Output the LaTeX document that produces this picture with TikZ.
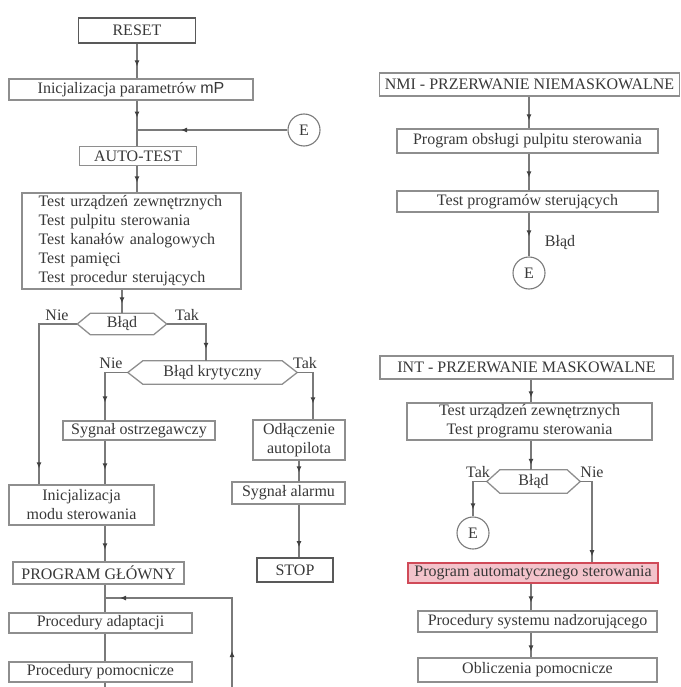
\documentclass[tikz,border=0pt]{standalone}
\usepackage{fontspec}
\setmainfont{Liberation Serif}
\newfontfamily\mysans{Liberation Sans}
\usetikzlibrary{arrows.meta,decorations.markings}
\definecolor{ln}{HTML}{7A7A7A}
\definecolor{bx}{HTML}{8E8E8E}
\definecolor{tx}{HTML}{383838}
\definecolor{pinkf}{HTML}{F3C3CB}
\definecolor{redb}{HTML}{D04A58}
\newcommand\hexdraw[2]{\draw[hexl] (#1.west) -- ([xshift=#2]#1.north west) -- ([xshift=-#2]#1.north east) -- (#1.east) -- ([xshift=-#2]#1.south east) -- ([xshift=#2]#1.south west) -- cycle;}
\begin{document}
\begin{tikzpicture}[x=1pt,y=-1pt,
  every node/.style={font=\fontsize{16}{19}\selectfont, text=tx},
  box/.style={draw=bx, line width=1.1pt, inner sep=0pt, align=center},
  thickbox/.style={draw=black!65, line width=1.8pt, inner sep=0pt, align=center},
  redbox/.style={draw=redb, fill=pinkf, line width=1.6pt, inner sep=0pt, align=center},
  circ/.style={circle, draw=ln, line width=1.1pt, minimum size=32pt, inner sep=0pt},
  hexn/.style={inner sep=0pt},
  hexl/.style={draw=bx, line width=1.3pt},
  ln1/.style={draw=ln, line width=1.1pt},
  arrowat/.style={postaction={decorate,decoration={markings,mark=at position #1 with {\arrow[black!75]{Latex[length=6pt,width=5pt]}}}}},
  lbl/.style={inner sep=0pt}
]
\useasboundingbox (0,0) rectangle (680,687);
% column coordinates
\coordinate (colA) at (137,0);
\coordinate (colL) at (39,0);
\coordinate (colM) at (105,0);
\coordinate (colR) at (206,0);
\coordinate (colS) at (313,0);
\coordinate (colT) at (299,0);
\coordinate (colN) at (529,0);
\coordinate (colI) at (531,0);
\coordinate (colP) at (592,0);

% left column
\node[thickbox, minimum width=117pt, minimum height=25pt] (reset) at (137,30.5) {RESET};
\node[box, minimum width=244pt, minimum height=21pt] (init) at (131,89.5) {Inicjalizacja parametrów {\mysans mP}};
\node[circ] (e1) at (304,130) {E};
\node[box, minimum width=117pt, minimum height=19pt] (auto) at (138,156) {AUTO-TEST};
\node[box, minimum width=219pt, minimum height=96pt, text width=186pt, align=left] (tests) at (131.5,241)
 {Test urządzeń zewnętrznych\\Test pulpitu sterowania\\Test kanałów analogowych\\Test pamięci\\Test procedur sterujących};
\node[hexn, minimum width=89pt, minimum height=21pt] (b1) at (122,324) {Błąd};
\hexdraw{b1}{13pt}
\node[lbl] (n1) at (57,315) {Nie};
\node[lbl] (t1) at (187,315) {Tak};
\node[hexn, minimum width=169pt, minimum height=23pt] (b2) at (212.5,372.5) {Błąd krytyczny};
\hexdraw{b2}{15pt}
\node[lbl] (n2) at (111,363) {Nie};
\node[lbl] (t2) at (305,363) {Tak};
\node[box, minimum width=152pt, minimum height=19pt] (sygo) at (139,430.5) {Sygnał ostrzegawczy};
\node[box, minimum width=92pt, minimum height=40pt] (odl) at (299,440) {Odłączenie\\autopilota};
\node[box, minimum width=113pt, minimum height=22pt] (alarm) at (288.5,493) {Sygnał alarmu};
\node[thickbox, minimum width=76pt, minimum height=24pt] (stop) at (295,570) {STOP};
\node[box, minimum width=145pt, minimum height=40pt] (initmod) at (81.5,505) {Inicjalizacja\\modu sterowania};
\node[box, minimum width=171pt, minimum height=22pt] (pg) at (98.5,573) {PROGRAM GŁÓWNY};
\node[box, minimum width=183pt, minimum height=20pt] (adapt) at (100.5,623) {Procedury adaptacji};
\node[box, minimum width=183pt, minimum height=20pt] (pomoc) at (100.5,672) {Procedury pomocnicze};

% right column
\node[box, minimum width=300pt, minimum height=23pt] (nmi) at (529.5,84.5) {NMI - PRZERWANIE NIEMASKOWALNE};
\node[box, minimum width=261pt, minimum height=24pt] (pobs) at (527.5,141) {Program obsługi pulpitu sterowania};
\node[box, minimum width=261pt, minimum height=21pt] (tprog) at (527.5,201.5) {Test programów sterujących};
\node[lbl] (bl2) at (560,243) {Błąd};
\node[circ] (e2) at (529,273) {E};

\node[box, minimum width=293pt, minimum height=23pt] (int) at (526.5,367.5) {INT - PRZERWANIE MASKOWALNE};
\node[box, minimum width=245pt, minimum height=37pt] (turz) at (529.5,421.5) {Test urządzeń zewnętrznych\\Test programu sterowania};
\node[hexn, minimum width=93pt, minimum height=23pt] (b3) at (533.5,481.5) {Błąd};
\hexdraw{b3}{13pt}
\node[lbl] (t3) at (478,472) {Tak};
\node[lbl] (n3) at (592,472) {Nie};
\node[circ] (e3) at (473,533) {E};
\node[redbox, minimum width=250pt, minimum height=20pt] (red) at (533,573) {Program automatycznego sterowania};
\node[box, minimum width=239pt, minimum height=21pt] (psys) at (537.5,621.5) {Procedury systemu nadzorującego};
\node[box, minimum width=239pt, minimum height=24pt] (obl) at (537.5,670) {Obliczenia pomocnicze};

% connectors left
\draw[ln1, arrowat=-12pt] (reset.south) -- (reset.south |- init.north);
\draw[ln1, arrowat=17pt] (init.south -| colA) -- (auto.north -| colA);
\coordinate (j1) at (137,130);
\draw[ln1, arrowat=-44pt] (e1.west) -- (j1);
\draw[ln1, arrowat=-10pt] (auto.south -| colA) -- (tests.north -| colA);
\draw[ln1, arrowat=-10pt] (tests.south -| b1.north) -- (b1.north);
\draw[ln1, arrowat=-12pt] (b1.east) -| (b2.north -| colR);
\draw[ln1, arrowat=-16pt] (b1.west) -| (initmod.north -| colL);
\draw[ln1, arrowat=-18pt] (b2.west) -| (sygo.north -| colM);
\draw[ln1, arrowat=-16pt] (b2.east) -| (odl.north -| colS);
\draw[ln1, arrowat=-15pt] (sygo.south -| colM) -- (initmod.north -| colM);
\draw[ln1, arrowat=-9pt] (odl.south -| colT) -- (alarm.north -| colT);
\draw[ln1, arrowat=-10pt] (alarm.south -| colT) -- (stop.north -| colT);
\draw[ln1, arrowat=-12pt] (initmod.south -| colM) -- (pg.north -| colM);
\draw[ln1] (pg.south -| colM) -- (adapt.north -| colM);
\draw[ln1] (adapt.south -| colM) -- (pomoc.north -| colM);
\coordinate (bot1) at (105,687);
\draw[ln1] (pomoc.south -| colM) -- (bot1);
\coordinate (bot2) at (232,687);
\coordinate (j2) at (105,598);
\draw[ln1, arrowat=36pt, arrowat=-15pt] (bot2) |- (j2);

% connectors right
\draw[ln1, arrowat=-8pt] (nmi.south -| colN) -- (pobs.north -| colN);
\draw[ln1, arrowat=-13pt] (pobs.south -| colN) -- (tprog.north -| colN);
\draw[ln1, arrowat=-20pt] (tprog.south -| colN) -- (e2.north);
\draw[ln1, arrowat=-5pt] (int.south -| colI) -- (turz.north -| colI);
\draw[ln1, arrowat=-5pt] (turz.south -| colI) -- (b3.north -| colI);
\draw[ln1, arrowat=-7pt] (b3.west) -| (e3.north);
\draw[ln1, arrowat=-6pt] (b3.east) -| (red.north -| colP);
\draw[ln1, arrowat=-8pt] (red.south -| colI) -- (psys.north -| colI);
\draw[ln1, arrowat=-6pt] (psys.south -| colI) -- (obl.north -| colI);
\end{tikzpicture}
\end{document}
